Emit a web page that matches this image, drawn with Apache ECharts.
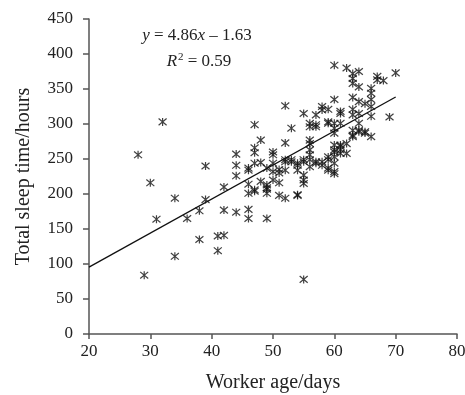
<!DOCTYPE html>
<html lang="en">

<head>
    <meta charset="UTF-8">
    <title>Worker age vs total sleep time</title>
    <script src="https://cdn.jsdelivr.net/npm/echarts@6/dist/echarts.min.js"></script>
    <style>
        body { margin: 0; background: #fff; }
    </style>
</head>

<body>
    <div id="main" style="width: 465px;height:395px;"></div>
    <script type="text/javascript">
        // worker age (days) and total sleep time (hours)
        const ages = [
            28, 29, 30, 31, 32, 34, 34, 36, 38, 38, 39, 39, 41, 41, 42, 42, 42, 44, 44, 44, 44,
            46, 46, 46, 46, 46, 46, 47, 47, 47, 47, 47, 47, 48, 48, 48,
            49, 49, 49, 49, 49, 49, 50, 50, 50, 50, 50, 51, 51, 51, 51,
            52, 52, 52, 52, 52, 52, 53, 53, 53, 54, 54, 54, 54, 54,
            55, 55, 55, 55, 55, 55, 55, 56, 56, 56, 56, 56, 56, 56, 56,
            57, 57, 57, 57, 57, 58, 58, 58, 58, 59, 59, 59, 59, 59, 59, 59,
            60, 60, 60, 60, 60, 60, 60, 60, 60, 60, 60, 60, 61, 61, 61, 61, 61, 61, 61,
            62, 62, 62, 63, 63, 63, 63, 63, 63, 63, 63, 63, 64, 64, 64, 64, 64, 64, 64,
            65, 65, 65, 66, 66, 66, 66, 66, 66, 67, 67, 68, 69, 70
        ];
        const sleepHours = [
            256, 84, 216, 164, 303, 194, 111, 165, 176, 135, 192, 240, 140, 119, 141, 210, 177, 174, 257, 241, 226,
            237, 214, 201, 178, 165, 234, 299, 266, 259, 244, 204, 206, 277, 245, 218,
            207, 201, 213, 165, 209, 237, 260, 256, 232, 244, 220, 216, 198, 230, 235,
            273, 326, 249, 194, 234, 246, 294, 246, 249, 198, 241, 234, 244, 199,
            78, 215, 315, 227, 220, 249, 246, 301, 296, 263, 256, 272, 277, 249, 239,
            313, 296, 244, 246, 299, 325, 241, 246, 320, 321, 303, 301, 253, 237, 249, 234,
            384, 335, 301, 294, 287, 270, 260, 232, 229, 253, 244, 263, 315, 301, 270, 263, 318, 268, 258,
            380, 272, 258, 372, 365, 358, 338, 321, 313, 291, 282, 284, 375, 353, 332, 315, 301, 291, 289,
            329, 289, 287, 344, 335, 325, 311, 282, 351, 368, 363, 362, 310, 373
        ];
        // end points of the fitted line y = 4.86x - 1.63
        const fitX = [20, 70];
        const fitY = [95.6, 338.6];

        const xTicks = { min: 20, max: 80, interval: 10 };
        const yTicks = { min: 0, max: 450, interval: 50 };

        const points = ages.map((a, i) => [a, sleepHours[i]]);
        const fitLine = fitX.map((a, i) => [a, fitY[i]]);

        const serif = '"Liberation Serif", "DejaVu Serif", serif';
        const asterisk = 'path://M0,0L10,10M0,10L10,0M5,-1L5,11';

        let options = {
            animation: false,
            textStyle: { fontFamily: serif, color: '#222' },
            grid: { left: 89, right: 8, top: 19, bottom: 61, outerBoundsMode: 'none' },
            xAxis: {
                type: 'value',
                min: xTicks.min, max: xTicks.max, interval: xTicks.interval,
                name: 'Worker age/days',
                nameLocation: 'middle',
                nameGap: 39,
                nameTextStyle: { fontFamily: serif, fontSize: 20, color: '#222' },
                axisLine: { lineStyle: { color: '#555', width: 1.5 } },
                axisTick: { length: 5, lineStyle: { color: '#555', width: 1.5 } },
                axisLabel: { fontFamily: serif, fontSize: 17, color: '#222', margin: 9 },
                splitLine: { show: false }
            },
            yAxis: {
                type: 'value',
                min: yTicks.min, max: yTicks.max, interval: yTicks.interval,
                name: 'Total sleep time/hours',
                nameLocation: 'middle',
                nameGap: 55,
                nameTextStyle: { fontFamily: serif, fontSize: 20, color: '#222' },
                axisLine: { show: true, lineStyle: { color: '#555', width: 1.5 } },
                axisTick: { show: true, length: 6, lineStyle: { color: '#555', width: 1.5 } },
                axisLabel: { fontFamily: serif, fontSize: 17, color: '#222', margin: 16 },
                splitLine: { show: false }
            },
            graphic: [
                {
                    type: 'text',
                    x: 197, y: 36,
                    style: {
                        text: '{i|y} = 4.86{i|x} \u2013 1.63',
                        font: '17px ' + serif,
                        fill: '#222',
                        align: 'center',
                        verticalAlign: 'middle',
                        rich: { i: { fontStyle: 'italic', fontFamily: serif, fontSize: 17 } }
                    }
                },
                {
                    type: 'text',
                    x: 199, y: 62,
                    style: {
                        text: '{i|R}{s|2} = 0.59',
                        font: '17px ' + serif,
                        fill: '#222',
                        align: 'center',
                        verticalAlign: 'middle',
                        rich: {
                            i: { fontStyle: 'italic', fontFamily: serif, fontSize: 17 },
                            s: { fontFamily: serif, fontSize: 11, verticalAlign: 'top', padding: [0, 0, 9, 1] }
                        }
                    }
                }
            ],
            series: [
                {
                    type: 'scatter',
                    data: points,
                    symbol: asterisk,
                    symbolSize: 8,
                    itemStyle: { color: 'none', borderColor: '#111', borderWidth: 1.2 },
                    z: 3
                },
                {
                    type: 'line',
                    data: fitLine,
                    showSymbol: false,
                    lineStyle: { color: '#111', width: 1.3 },
                    z: 2
                }
            ]
        };

        let myChart = echarts.init(document.getElementById('main'));
        myChart.setOption(options);
    </script>
</body>

</html>
